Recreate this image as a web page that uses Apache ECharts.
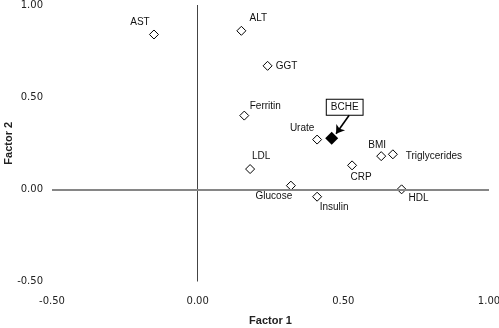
<!DOCTYPE html>
<html>
<head>
<meta charset="utf-8">
<script src="https://cdn.jsdelivr.net/npm/echarts@6/dist/echarts.min.js"></script>
<style>
  html, body { margin: 0; padding: 0; background: #fff; }
  #chart { width: 499px; height: 328px; }
</style>
</head>
<body>
<div id="chart"></div>
<script>
// loadings
const names = ['AST', 'ALT', 'GGT', 'Ferritin', 'Urate', 'BMI', 'Triglycerides', 'LDL', 'CRP', 'Glucose', 'Insulin', 'HDL']
const factor1 = [-0.15, 0.15, 0.24, 0.16, 0.41, 0.63, 0.67, 0.18, 0.53, 0.32, 0.41, 0.70]
const factor2 = [0.84, 0.86, 0.67, 0.40, 0.27, 0.18, 0.19, 0.11, 0.13, 0.02, -0.04, 0.00]
const bcheName = 'BCHE'
const bcheValue = [0.46, 0.277]
const tickValues = [-0.5, 0, 0.5, 1.0]

// label placement (pixel offsets from the marker centre)
const labelOffsets = {
    AST: [-14, -12],
    ALT: [17, -13],
    GGT: [19, 0],
    Ferritin: [21, -9],
    Urate: [-15, -11],
    BMI: [-4, -11],
    Triglycerides: [41, 2],
    LDL: [11, -13],
    CRP: [9, 12],
    Glucose: [-17, 11],
    Insulin: [17, 11],
    HDL: [17, 9],
}

const labelFont = 'Liberation Sans, Arial, sans-serif'
const tickFont = 'DejaVu Sans, Verdana, sans-serif'

const points = names.map((n, i) => ({
    name: n,
    value: [factor1[i], factor2[i]],
    label: { offset: labelOffsets[n] },
}))

const chart = echarts.init(document.getElementById('chart'), null, { renderer: 'canvas' })

const option = {
    animation: false,
    grid: { left: 52, right: 10, top: 5, bottom: 46.5, outerBoundsMode: 'none', containLabel: false },
    xAxis: {
        type: 'value',
        min: tickValues[0],
        max: tickValues[tickValues.length - 1],
        interval: 0.5,
        name: 'Factor 1',
        nameLocation: 'middle',
        nameGap: 34,
        nameMoveOverlap: false,
        nameTextStyle: { fontFamily: labelFont, fontWeight: 'bold', fontSize: 11, color: '#222' },
        axisLine: { show: false },
        axisTick: { show: false },
        splitLine: { show: false },
        axisLabel: {
            margin: 15,
            fontFamily: tickFont,
            fontSize: 10,
            color: '#222',
            formatter: (v) => v.toFixed(2),
        },
    },
    yAxis: {
        type: 'value',
        min: tickValues[0],
        max: tickValues[tickValues.length - 1],
        interval: 0.5,
        name: 'Factor 2',
        nameLocation: 'middle',
        nameGap: 38,
        nameMoveOverlap: false,
        nameTextStyle: { fontFamily: labelFont, fontWeight: 'bold', fontSize: 11, color: '#222' },
        axisLine: { show: false },
        axisTick: { show: false },
        splitLine: { show: false },
        axisLabel: {
            margin: 9,
            fontFamily: tickFont,
            fontSize: 10,
            color: '#222',
            formatter: (v) => v.toFixed(2),
        },
    },
    series: [
        {
            type: 'scatter',
            symbol: 'diamond',
            symbolSize: [9, 9],
            itemStyle: { color: '#fff', borderColor: '#000', borderWidth: 1, opacity: 1 },
            label: {
                show: true,
                position: 'inside',
                formatter: '{b}',
                fontFamily: labelFont,
                fontSize: 10,
                color: '#111',
            },
            data: points,
            z: 3,
            markLine: {
                silent: true,
                symbol: ['none', 'none'],
                label: { show: false },
                animation: false,
                data: [
                    [
                        { coord: [0, tickValues[0]], lineStyle: { color: '#444', width: 1, type: 'solid' } },
                        { coord: [0, tickValues[tickValues.length - 1]] },
                    ],
                    [
                        { coord: [tickValues[0], 0], lineStyle: { color: '#868686', width: 1.8, type: 'solid' } },
                        { coord: [tickValues[tickValues.length - 1], 0] },
                    ],
                ],
            },
        },
        {
            type: 'scatter',
            symbol: 'diamond',
            symbolSize: [13, 13],
            itemStyle: { color: '#000', opacity: 1 },
            label: {
                show: true,
                position: 'inside',
                offset: [13, -31],
                formatter: '{b}',
                fontFamily: labelFont,
                fontSize: 10,
                color: '#111',
                backgroundColor: '#fff',
                borderColor: '#000',
                borderWidth: 1,
                padding: [3, 4, 2, 4],
            },
            data: [{ name: bcheName, value: bcheValue }],
            z: 4,
            markLine: {
                silent: true,
                symbol: ['none', 'arrow'],
                symbolSize: 8,
                label: { show: false },
                lineStyle: { color: '#000', width: 1.6, type: 'solid' },
                data: [
                    [
                        { coord: [bcheValue[0] + 0.06, bcheValue[1] + 0.125] },
                        { coord: [bcheValue[0] + 0.015, bcheValue[1] + 0.025] },
                    ],
                ],
            },
        },
    ],
}

chart.setOption(option)
</script>
</body>
</html>
